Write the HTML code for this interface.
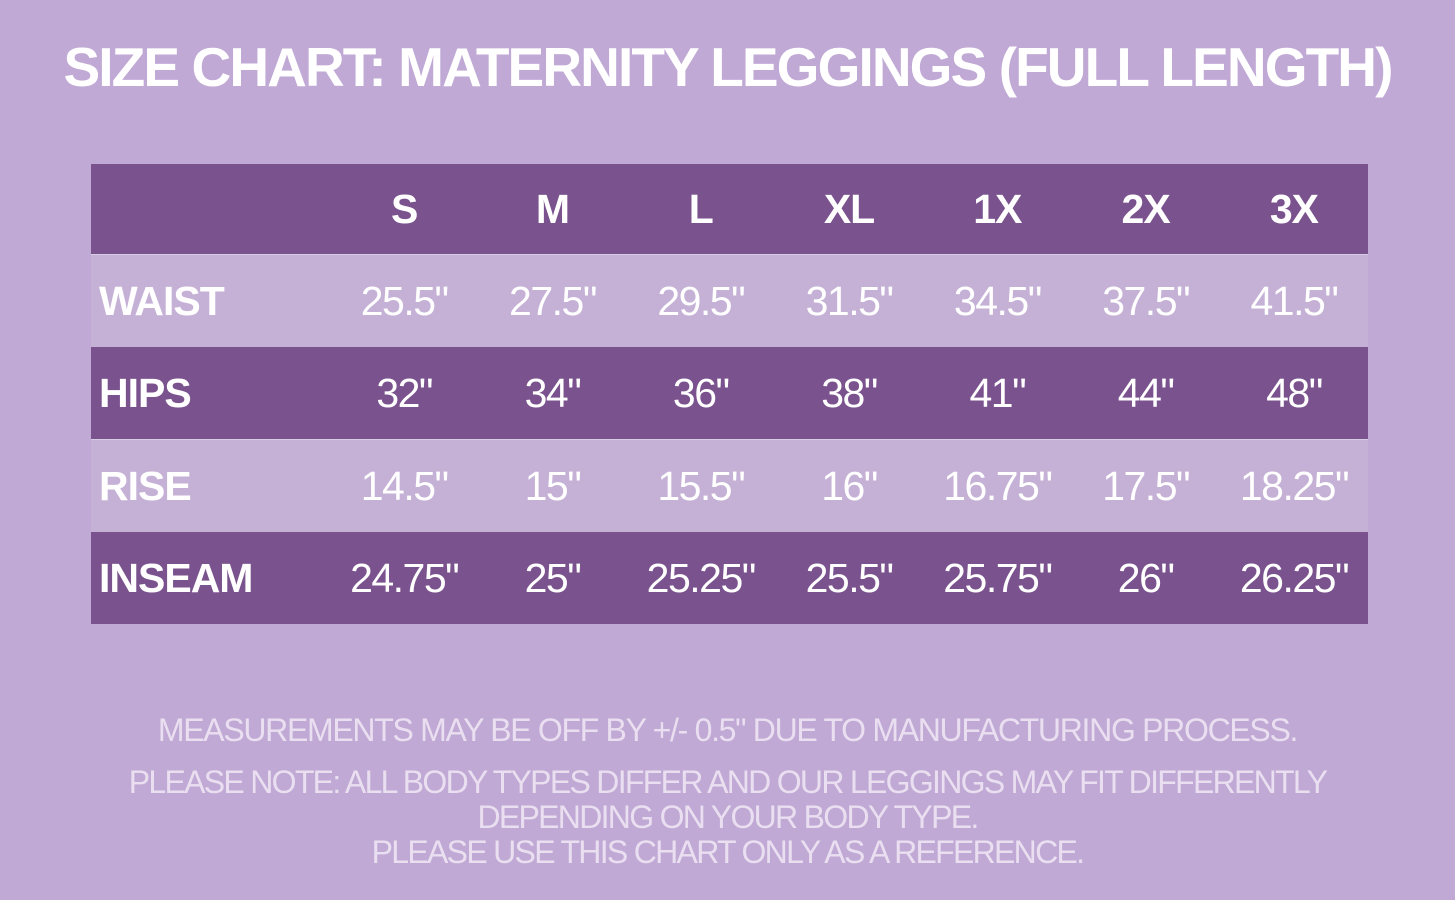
<!DOCTYPE html>
<html><head><style>
body{margin:0;width:1455px;height:900px;background:#c0a9d5;font-family:"Liberation Sans",sans-serif;overflow:hidden;position:relative}
h1{position:absolute;top:32px;left:0;width:1455px;text-align:center;margin:0;color:#fff;font-size:55px;font-weight:bold;letter-spacing:-1.9px;line-height:70px}
table{position:absolute;left:91px;top:164px;width:1277px;border-collapse:collapse;table-layout:fixed}
td{height:92px;padding:0;text-align:center;color:#fff;font-size:41px;letter-spacing:-1.5px;width:148.3px}
tr.d td{background:#7a528e}
tr.l td{background:#c5b1d6;border-top:1px solid #d8cbe4;}
tr.h td{font-weight:bold;height:90px;letter-spacing:-1px}
td.lab{text-align:left;font-weight:bold;padding-left:8px;width:231px;letter-spacing:-1px}
.n{position:absolute;left:0;width:1455px;text-align:center;color:#eadff0;font-size:32px;line-height:35px}
</style></head><body>
<h1>SIZE CHART: MATERNITY LEGGINGS (FULL LENGTH)</h1>
<table>
<tr class="d h"><td class="lab"></td><td>S</td><td>M</td><td>L</td><td>XL</td><td>1X</td><td>2X</td><td>3X</td></tr>
<tr class="l"><td class="lab">WAIST</td><td>25.5"</td><td>27.5"</td><td>29.5"</td><td>31.5"</td><td>34.5"</td><td>37.5"</td><td>41.5"</td></tr>
<tr class="d"><td class="lab">HIPS</td><td>32"</td><td>34"</td><td>36"</td><td>38"</td><td>41"</td><td>44"</td><td>48"</td></tr>
<tr class="l"><td class="lab">RISE</td><td>14.5"</td><td>15"</td><td>15.5"</td><td>16"</td><td>16.75"</td><td>17.5"</td><td>18.25"</td></tr>
<tr class="d"><td class="lab">INSEAM</td><td>24.75"</td><td>25"</td><td>25.25"</td><td>25.5"</td><td>25.75"</td><td>26"</td><td>26.25"</td></tr>
</table>
<div class="n" style="top:713px;letter-spacing:-1.3px">MEASUREMENTS MAY BE OFF BY +/- 0.5" DUE TO MANUFACTURING PROCESS.</div>
<div class="n" style="top:765px;letter-spacing:-1.7px">PLEASE NOTE: ALL BODY TYPES DIFFER AND OUR LEGGINGS MAY FIT DIFFERENTLY<br>DEPENDING ON YOUR BODY TYPE.<br>PLEASE USE THIS CHART ONLY AS A REFERENCE.</div>
</body></html>
